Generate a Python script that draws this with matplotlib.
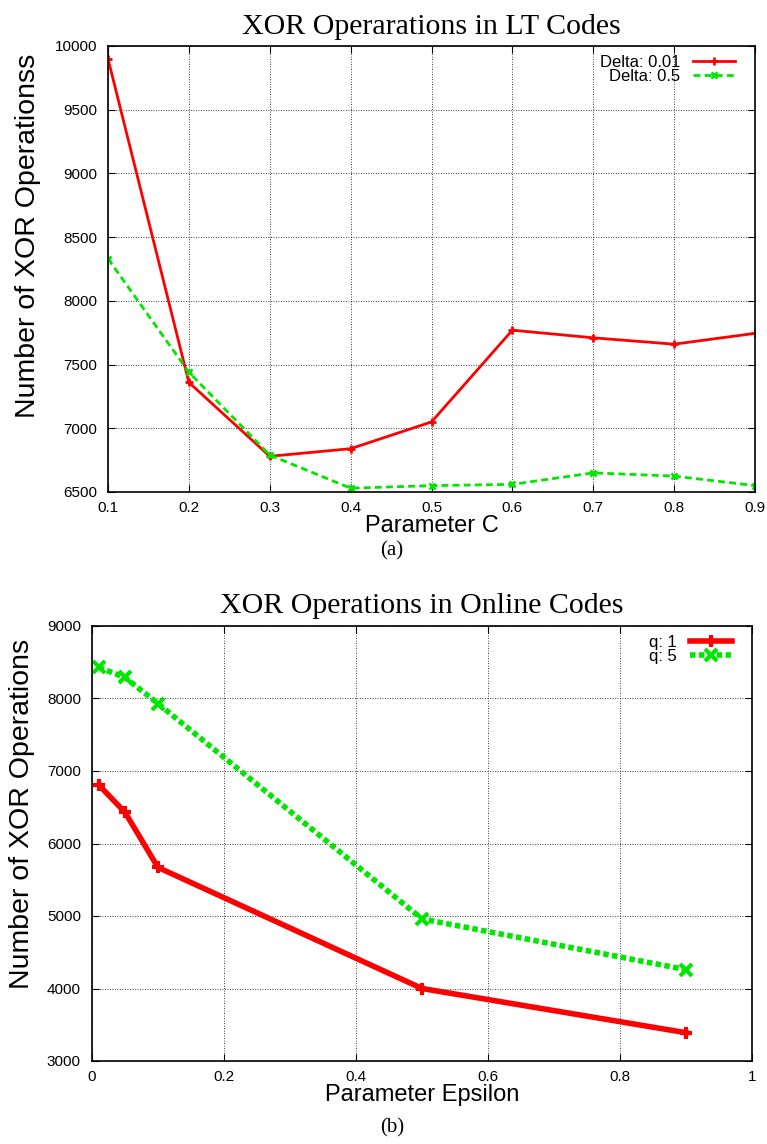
import matplotlib
matplotlib.use("Agg")
import matplotlib.pyplot as plt

# LT codes: XOR count vs parameter C
c_vals = [0.1, 0.2, 0.3, 0.4, 0.5, 0.6, 0.7, 0.8, 0.9]
lt_delta_001 = [9900, 7360, 6780, 6840, 7050, 7770, 7710, 7660, 7745]
lt_delta_05 = [8330, 7440, 6790, 6530, 6550, 6560, 6650, 6625, 6550]

# Online codes: XOR count vs epsilon
eps_vals = [0.01, 0.05, 0.1, 0.5, 0.9]
online_q1 = [6810, 6430, 5670, 4000, 3390]
online_q5 = [8430, 8290, 7930, 4960, 4260]

RED = "#ff0000"
GREEN = "#00e600"
SANS = "Liberation Sans"
SERIF = "Liberation Serif"

plt.rcParams["font.family"] = SANS

fig = plt.figure(figsize=(7.67, 11.44), dpi=100)
W, H = 767.0, 1144.0


def box(l, t, r, b):
    return [l / W, 1 - b / H, (r - l) / W, (b - t) / H]


def style(ax):
    ax.grid(True, color="black", linestyle=(0, (1, 2)), linewidth=0.6)
    ax.tick_params(direction="in", top=True, right=True, length=5,
                   labelsize=11, width=0.8)
    ax.tick_params(axis="x", pad=6.5)
    ax.tick_params(axis="y", pad=8)
    for s in ax.spines.values():
        s.set_linewidth(1.2)
    ax.set_axisbelow(True)


def legend(ax, x, y):
    ax.legend(loc="upper right", frameon=False, markerfirst=False,
              prop={"size": 12}, handlelength=2.5, handletextpad=0.8,
              labelspacing=-0.05, borderpad=0, borderaxespad=0,
              bbox_to_anchor=(x / W, 1 - y / H), bbox_transform=fig.transFigure)


# (a) LT codes
ax1 = fig.add_axes(box(108, 46, 755, 492))
ax1.plot(c_vals, lt_delta_001, color=RED, lw=2, marker="+", ms=6, mew=2,
         label="Delta: 0.01")
ax1.plot(c_vals, lt_delta_05, color=GREEN, lw=2, ls=(0, (2.5, 1.5)), marker="x",
         ms=5, mew=2, label="Delta: 0.5")
ax1.set_xlim(0.1, 0.9)
ax1.set_ylim(6500, 10000)
ax1.set_xticks(c_vals)
ax1.set_yticks(range(6500, 10001, 500))
style(ax1)
ax1.set_xlabel("Parameter C", fontsize=17, labelpad=0)
ax1.set_ylabel("Number of XOR Operationss", fontsize=20.5)
ax1.yaxis.set_label_coords(-0.104, 0.574)
ax1.set_title("XOR Operarations in LT Codes", family=SERIF, fontsize=21.5,
              pad=9)
legend(ax1, 735, 55)
fig.text(392 / W, 1 - 551 / H, "(a)", family=SERIF, fontsize=15,
         ha="center", va="center")

# (b) Online codes
ax2 = fig.add_axes(box(92, 626, 752, 1061))
ax2.plot(eps_vals, online_q1, color=RED, lw=4, marker="+", ms=9, mew=3,
         label="q: 1")
ax2.plot(eps_vals, online_q5, color=GREEN, lw=4, ls=(0, (1, 0.6)), marker="x",
         ms=9, mew=3, label="q: 5")
ax2.set_xlim(0, 1)
ax2.set_ylim(3000, 9000)
ax2.set_xticks([0, 0.2, 0.4, 0.6, 0.8, 1])
ax2.set_xticklabels(["0", "0.2", "0.4", "0.6", "0.8", "1"])
ax2.set_yticks(range(3000, 9001, 1000))
style(ax2)
ax2.set_xlabel("Parameter Epsilon", fontsize=17, labelpad=0)
ax2.set_ylabel("Number of XOR Operations", fontsize=20.5)
ax2.yaxis.set_label_coords(-0.087, 0.568)
ax2.set_title("XOR Operations in Online Codes", family=SERIF, fontsize=21.5,
              pad=9)
legend(ax2, 732, 635)
fig.text(392 / W, 1 - 1128 / H, "(b)", family=SERIF, fontsize=15,
         ha="center", va="center")

fig.savefig("out.png", dpi=100)
